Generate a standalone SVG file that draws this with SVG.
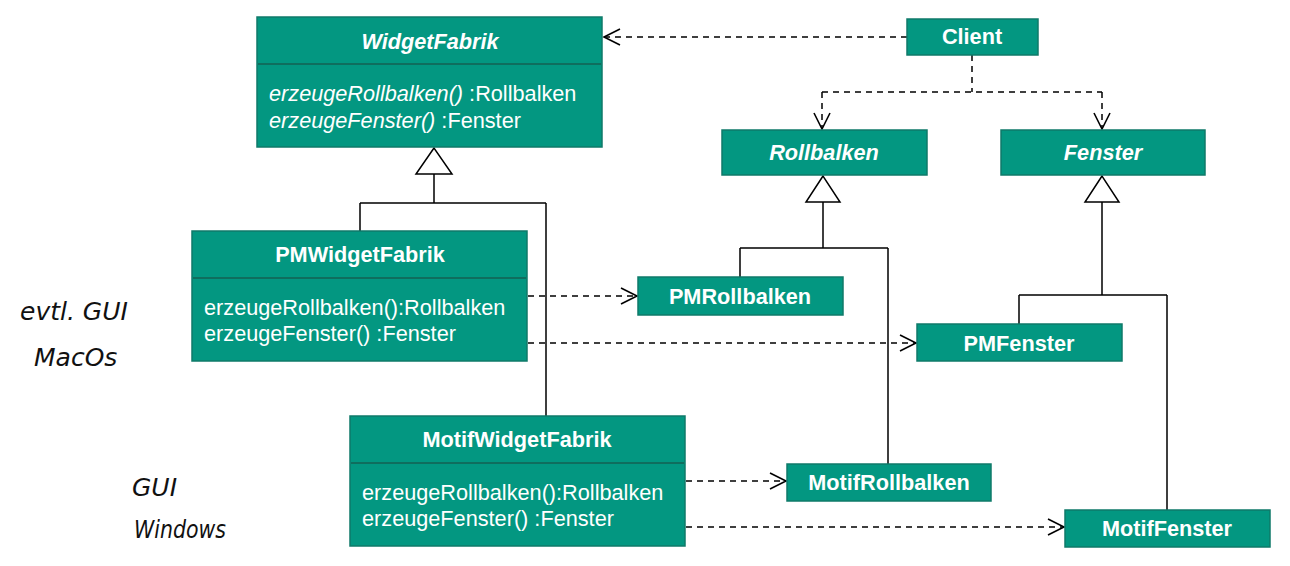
<svg xmlns="http://www.w3.org/2000/svg" width="1290" height="566" viewBox="0 0 1290 566">
<style>
.box{fill:#039781;stroke:#0f7a69;stroke-width:1.5}
.div{stroke:#0f6e5e;stroke-width:2}
.t{font-family:"Liberation Sans",Arial,sans-serif;font-size:21.7px;fill:#fff}
.b{font-weight:bold}
.i{font-style:italic}
.mid{text-anchor:middle}
.dep{fill:none;stroke:#000;stroke-width:1.5;stroke-dasharray:6 5;marker-end:url(#open)}
.dl{fill:none;stroke:#000;stroke-width:1.5;stroke-dasharray:6 5}
.gen{fill:none;stroke:#000;stroke-width:1.5}
.tri{fill:#fff;stroke:#000;stroke-width:1.5}
.hand{font-family:"DejaVu Sans",sans-serif;font-style:italic;font-size:25px;fill:#111;font-weight:300}
</style>
<defs>
<marker id="open" markerUnits="userSpaceOnUse" markerWidth="20" markerHeight="20" viewBox="0 0 20 20" refX="17" refY="10" orient="auto">
<path d="M1,2 L17,10 L1,18" fill="none" stroke="#000" stroke-width="1.6"/>
</marker>
</defs>

<g id="connectors">
<path class="dep" d="M907,37 L604,37"/>
<path class="dl" d="M972,55 L972,92 M822,92 L1102,92"/>
<path class="dep" d="M822,92 L822,129"/>
<path class="dep" d="M1102,92 L1102,129"/>
<path class="gen" d="M434,174 L434,203 M360,203 L546,203 M360,203 L360,231 M546,203 L546,416"/>
<polygon class="tri" points="434,148 416,174 452,174"/>
<path class="gen" d="M823,202 L823,248 M740,248 L888,248 M740,248 L740,277 M888,248 L888,464"/>
<polygon class="tri" points="823,176 806,202 840,202"/>
<path class="gen" d="M1102,202 L1102,295 M1019,295 L1167,295 M1019,295 L1019,324 M1167,295 L1167,510"/>
<polygon class="tri" points="1102,176 1085,202 1119,202"/>
<path class="dep" d="M528,296 L637,296"/>
<path class="dep" d="M528,343 L916,343"/>
<path class="dep" d="M686,481 L786,481"/>
<path class="dep" d="M686,527 L1064,527"/>
</g>

<g id="WidgetFabrik">
<rect class="box" x="257" y="17" width="345" height="130"/>
<line class="div" x1="258" y1="64" x2="601" y2="64"/>
<text class="t b i mid" x="430" y="49">WidgetFabrik</text>
<text class="t" x="269" y="101"><tspan class="i">erzeugeRollbalken()</tspan> :Rollbalken</text>
<text class="t" x="269" y="128"><tspan class="i">erzeugeFenster()</tspan> :Fenster</text>
</g>

<g id="Client">
<rect class="box" x="907" y="19" width="131" height="36"/>
<text class="t b mid" x="972" y="44">Client</text>
</g>

<g id="Rollbalken">
<rect class="box" x="722" y="130" width="205" height="45"/>
<text class="t b i mid" x="824" y="160">Rollbalken</text>
</g>

<g id="Fenster">
<rect class="box" x="1001" y="130" width="204" height="45"/>
<text class="t b i mid" x="1103" y="160">Fenster</text>
</g>

<g id="PMWidgetFabrik">
<rect class="box" x="192" y="231" width="335" height="130"/>
<line class="div" x1="193" y1="278" x2="526" y2="278"/>
<text class="t b mid" x="360" y="262">PMWidgetFabrik</text>
<text class="t" x="204" y="315">erzeugeRollbalken():Rollbalken</text>
<text class="t" x="204" y="341">erzeugeFenster() :Fenster</text>
</g>

<g id="PMRollbalken">
<rect class="box" x="638" y="277" width="205" height="38"/>
<text class="t b mid" x="740" y="304">PMRollbalken</text>
</g>

<g id="PMFenster">
<rect class="box" x="917" y="324" width="205" height="37"/>
<text class="t b mid" x="1019" y="351">PMFenster</text>
</g>

<g id="MotifWidgetFabrik">
<rect class="box" x="350" y="416" width="335" height="130"/>
<line class="div" x1="351" y1="463" x2="684" y2="463"/>
<text class="t b mid" x="517" y="447">MotifWidgetFabrik</text>
<text class="t" x="362" y="500">erzeugeRollbalken():Rollbalken</text>
<text class="t" x="362" y="526">erzeugeFenster() :Fenster</text>
</g>

<g id="MotifRollbalken">
<rect class="box" x="787" y="464" width="204" height="37"/>
<text class="t b mid" x="889" y="490">MotifRollbalken</text>
</g>

<g id="MotifFenster">
<rect class="box" x="1065" y="510" width="205" height="37"/>
<text class="t b mid" x="1167" y="536">MotifFenster</text>
</g>

<g id="notes">
<text class="hand" x="20" y="320">evtl. GUI</text>
<text class="hand" x="34" y="366">MacOs</text>
<text class="hand" x="132" y="496">GUI</text>
<text class="hand" x="134" y="538" textLength="92" lengthAdjust="spacingAndGlyphs">Windows</text>
</g>
</svg>
